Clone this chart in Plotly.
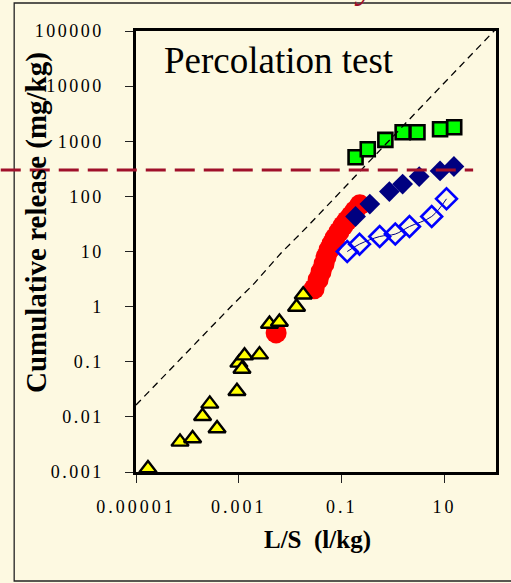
import plotly.graph_objects as go

# ---- data: cumulative release vs liquid/solid ratio (percolation test) ----
tri_x = [1.71e-5, 7.18e-5, 1.26e-4, 1.97e-4, 2.72e-4, 3.77e-4, 9.18e-4,
         1.0e-3, 1.29e-3, 1.15e-3, 2.52e-3, 3.94e-3, 6.14e-3, 0.01324, 0.01786]
tri_y = [0.00116, 0.00352, 0.00405, 0.01026, 0.0172, 0.00614, 0.0291,
         0.0953, 0.129, 0.0741, 0.1346, 0.484, 0.527, 0.984, 1.64]

red_x = [5.30e-3, 0.0291, 0.0348, 0.0397, 0.0454, 0.0497, 0.0568, 0.0649,
         0.0741, 0.0885, 0.106, 0.126, 0.151, 0.180, 0.225]
red_y = [0.333, 2.11, 3.08, 4.30, 6.0, 8.03, 10.8, 13.8,
         17.7, 22.8, 29.3, 36.1, 44.4, 54.7, 70.3]

open_x = [0.128, 0.222, 0.548, 1.10, 2.08, 5.62, 10.9]
open_y = [10.0, 13.6, 18.7, 20.7, 28.4, 43.2, 90.3]

navy_x = [0.186, 0.352, 0.845, 1.53, 3.21, 8.17, 15.2]
navy_y = [43.1, 72.4, 122, 167, 229, 290, 348]

green_x = [0.186, 0.321, 0.706, 1.53, 2.97, 8.17, 15.4]
green_y = [514, 718, 1059, 1459, 1459, 1653, 1798]

ref_x = [1e-5, 1.1e-4, 7.6e-4, 1.89e-3, 6.7e-3, 0.0204, 0.126, 2.49, 100]
ref_y = [0.0164, 0.17, 1.08, 2.5, 9.5, 26.9, 162, 3000, 1.09e5]

limit_value = 300

y_tickvals = [0.001, 0.01, 0.1, 1, 10, 100, 1000, 10000, 100000]
y_ticktext = ["0.001", "0.01", "0.1", "1", "10", "100", "1000", "10000", "100000"]
x_tickvals = [1e-5, 1e-3, 0.1, 10]
x_ticktext = ["0.00001", "0.001", "0.1", "10"]

# ---- page geometry (pixels) ----
W, H = 511, 583
L, R, T, B = 136, 498, 31, 472
BG = "#FDF9E1"
SERIF = "Liberation Serif"


def px(xp):
    return (xp - L) / (R - L)


def py(yp):
    return (B - yp) / (B - T)


fig = go.Figure()

fig.add_trace(go.Scatter(
    x=red_x, y=red_y, mode="markers",
    marker=dict(symbol="circle", size=21, color="#FF0000", line=dict(width=0)),
))
fig.add_trace(go.Scatter(
    x=tri_x, y=tri_y, mode="markers",
    marker=dict(symbol="triangle-up", size=15, color="#FFFF00",
                line=dict(color="black", width=2.4)),
))
fig.add_trace(go.Scatter(
    x=open_x, y=open_y, mode="lines+markers",
    line=dict(color="#000080", width=1, shape="spline"),
    marker=dict(symbol="diamond-open", size=16, color="#0000FF",
                line=dict(color="#0000FF", width=2.6)),
))
fig.add_trace(go.Scatter(
    x=navy_x, y=navy_y, mode="markers",
    marker=dict(symbol="diamond", size=16, color="#000080", line=dict(width=0)),
))
fig.add_trace(go.Scatter(
    x=green_x, y=green_y, mode="markers",
    marker=dict(symbol="square", size=14, color="#00FF00",
                line=dict(color="black", width=2.6)),
))
fig.add_trace(go.Scatter(
    x=ref_x, y=ref_y, mode="lines",
    line=dict(color="black", width=1.3, dash="7px,5px"),
))

tick_font = dict(family=SERIF, size=18, color="black")
axis_common = dict(
    type="log", showgrid=False, zeroline=False,
    showline=True, linecolor="black", linewidth=2.5, mirror=True,
    ticks="outside", ticklen=8, tickwidth=1.2, tickcolor="#222",
    tickfont=tick_font,
)

fig.update_layout(
    width=W, height=H,
    margin=dict(l=L, r=W - R, t=T, b=H - B),
    paper_bgcolor=BG, plot_bgcolor=BG,
    showlegend=False,
    font=dict(family=SERIF),
    xaxis=dict(range=[-5, 2], tickmode="array", tickvals=x_tickvals,
               ticktext=x_ticktext, ticklabelstandoff=9, **axis_common),
    yaxis=dict(range=[-3, 5], tickmode="array", tickvals=y_tickvals,
               ticktext=y_ticktext, ticklabelstandoff=18, **axis_common),
    shapes=[
        # outer slide frame
        dict(type="rect", xref="paper", yref="paper",
             x0=px(13.5), x1=px(530), y0=py(581), y1=py(3),
             line=dict(color="#222", width=1.3), layer="below"),
        # limit value
        dict(type="line", xref="paper", yref="y",
             x0=px(0), x1=px(475),
             y0=limit_value, y1=limit_value,
             line=dict(color="#A0102A", width=3, dash="20px,9px"),
             layer="above"),
    ],
    annotations=[
        dict(text="Percolation test", xref="paper", yref="paper",
             x=px(162), y=py(61), xanchor="left", yanchor="middle",
             showarrow=False, font=dict(family=SERIF, size=37, color="black")),
        dict(text="Cumulative release (mg/kg)", xref="paper", yref="paper",
             x=px(35.5), y=py(223), xanchor="center", yanchor="middle",
             textangle=-90, showarrow=False,
             font=dict(family=SERIF, size=29, color="black", weight="bold")),
        dict(text="L/S\u00a0 (l/kg)", xref="paper", yref="paper",
             x=px(319), y=py(540), xanchor="center", yanchor="middle",
             showarrow=False,
             font=dict(family=SERIF, size=25, color="black", weight="bold")),
        dict(text="y", xref="paper", yref="paper",
             x=px(366), y=py(8), xanchor="center", yanchor="bottom",
             showarrow=False,
             font=dict(family=SERIF, size=40, color="#A0102A", style="italic")),
    ],
)

# tick numbers are set with wide character spacing
spacing_css = (
    "var s=document.createElement('style');"
    "s.textContent='.xtick text{letter-spacing:3px}"
    ".ytick text{letter-spacing:2.5px}';"
    "document.head.appendChild(s);"
)

fig.write_html("out.html", post_script=spacing_css)
